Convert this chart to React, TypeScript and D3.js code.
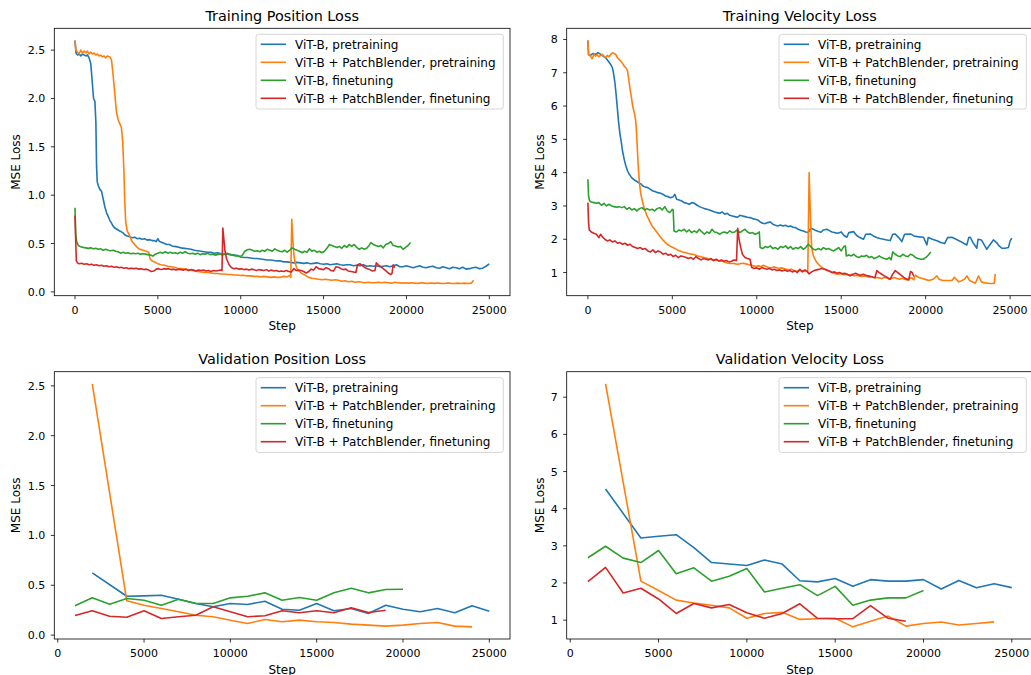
import React from "react";
import * as d3 from "d3";

// ---------- labels / colors ----------
const SERIES_LABELS = [
  "ViT-B, pretraining",
  "ViT-B + PatchBlender, pretraining",
  "ViT-B, finetuning",
  "ViT-B + PatchBlender, finetuning",
];
const COLORS = ["#1f77b4", "#ff7f0e", "#2ca02c", "#d62728"];
const TITLES = [
  "Training Position Loss",
  "Training Velocity Loss",
  "Validation Position Loss",
  "Validation Velocity Loss",
];
const X_TICKS = [0, 5000, 10000, 15000, 20000, 25000];
const Y_TICKS_POS = [0, 0.5, 1.0, 1.5, 2.0, 2.5];
const Y_TICKS_TVEL = [1, 2, 3, 4, 5, 6, 7, 8];
const Y_TICKS_VVEL = [1, 2, 3, 4, 5, 6, 7];

type P = [number, number];

// ---------- Training position loss ----------
const TP_VIT_PRE: P[] = [
  [0, 2.6], [60, 2.47], [150, 2.45], [250, 2.46], [350, 2.44], [450, 2.46], [550, 2.45], [650, 2.44], [750, 2.45], [850, 2.42],
  [950, 2.36], [1050, 2.15], [1120, 2.0], [1200, 1.97], [1260, 1.75], [1300, 1.3], [1340, 1.14], [1400, 1.1], [1500, 1.06], [1600, 1.04],
  [1700, 0.96], [1800, 0.88], [1900, 0.82], [2000, 0.78], [2100, 0.74], [2200, 0.71], [2300, 0.68], [2400, 0.66], [2500, 0.65], [2600, 0.64],
  [2700, 0.63], [2800, 0.62], [2900, 0.61], [3000, 0.59], [3100, 0.58], [3200, 0.575], [3300, 0.57], [3450, 0.56], [3600, 0.565], [3750, 0.55],
  [3900, 0.555], [4050, 0.545], [4200, 0.55], [4350, 0.535], [4500, 0.54], [4650, 0.53], [4800, 0.53], [4900, 0.52], [5000, 0.55], [5100, 0.52],
  [5250, 0.51], [5400, 0.5], [5550, 0.49], [5700, 0.49], [5850, 0.475], [6000, 0.47], [6200, 0.465], [6400, 0.455], [6600, 0.45], [6800, 0.445],
  [7000, 0.44], [7200, 0.43], [7400, 0.425], [7600, 0.42], [7800, 0.415], [8000, 0.41], [8200, 0.41], [8400, 0.4], [8600, 0.405], [8800, 0.395],
  [9000, 0.39], [9200, 0.39], [9400, 0.385], [9600, 0.38], [9800, 0.375], [10000, 0.36], [10200, 0.355], [10400, 0.355], [10600, 0.35], [10800, 0.345],
  [11000, 0.345], [11200, 0.34], [11400, 0.335], [11600, 0.33], [11800, 0.33], [12000, 0.325], [12200, 0.32], [12400, 0.32], [12600, 0.31], [12800, 0.31],
  [13000, 0.305], [13200, 0.3], [13400, 0.305], [13600, 0.3], [13800, 0.295], [14000, 0.3], [14200, 0.29], [14400, 0.295], [14600, 0.3], [14800, 0.29],
  [15000, 0.285], [15200, 0.29], [15400, 0.28], [15600, 0.285], [15800, 0.29], [16000, 0.28], [16200, 0.275], [16400, 0.28], [16600, 0.28], [16800, 0.27],
  [17000, 0.275], [17200, 0.27], [17400, 0.28], [17600, 0.265], [17800, 0.27], [18000, 0.265], [18200, 0.27], [18400, 0.26], [18600, 0.265], [18800, 0.27],
  [19000, 0.26], [19200, 0.27], [19400, 0.28], [19600, 0.26], [19800, 0.26], [20000, 0.27], [20200, 0.26], [20400, 0.25], [20600, 0.26], [20800, 0.27],
  [21000, 0.255], [21200, 0.25], [21400, 0.26], [21600, 0.265], [21800, 0.25], [22000, 0.245], [22200, 0.26], [22400, 0.25], [22600, 0.24], [22800, 0.255],
  [23000, 0.25], [23200, 0.24], [23400, 0.255], [23600, 0.235], [23800, 0.24], [24000, 0.25], [24200, 0.255], [24400, 0.24], [24600, 0.245], [24800, 0.265],
  [25000, 0.29],
];
const TP_PB_PRE: P[] = [
  [0, 2.6], [50, 2.5], [150, 2.48], [250, 2.46], [350, 2.5], [450, 2.47], [550, 2.49], [650, 2.47], [750, 2.49], [850, 2.46],
  [950, 2.48], [1050, 2.46], [1150, 2.47], [1250, 2.45], [1350, 2.46], [1450, 2.44], [1550, 2.45], [1650, 2.43], [1750, 2.44], [1850, 2.42],
  [1950, 2.44], [2100, 2.43], [2200, 2.4], [2300, 2.24], [2400, 2.05], [2500, 1.86], [2600, 1.78], [2700, 1.74], [2800, 1.7], [2880, 1.55],
  [2950, 1.25], [3000, 0.95], [3060, 0.72], [3150, 0.63], [3300, 0.58], [3450, 0.52], [3600, 0.49], [3750, 0.46], [3900, 0.44], [4100, 0.43],
  [4300, 0.42], [4450, 0.41], [4530, 0.34], [4650, 0.32], [4800, 0.31], [5000, 0.29], [5200, 0.28], [5400, 0.275], [5600, 0.265], [5800, 0.26],
  [6000, 0.255], [6200, 0.245], [6400, 0.24], [6600, 0.235], [6800, 0.23], [7000, 0.225], [7200, 0.215], [7400, 0.21], [7600, 0.205], [7800, 0.2],
  [8000, 0.2], [8200, 0.195], [8400, 0.19], [8600, 0.19], [8800, 0.185], [9000, 0.185], [9200, 0.18], [9400, 0.18], [9600, 0.175], [9800, 0.175],
  [10000, 0.17], [10200, 0.17], [10400, 0.165], [10600, 0.165], [10800, 0.16], [11000, 0.16], [11200, 0.155], [11400, 0.16], [11600, 0.155], [11800, 0.15],
  [12000, 0.155], [12200, 0.15], [12400, 0.15], [12600, 0.16], [12800, 0.155], [12950, 0.17], [13020, 0.15], [13080, 0.75], [13140, 0.55], [13200, 0.4],
  [13280, 0.3], [13400, 0.24], [13550, 0.21], [13700, 0.19], [13900, 0.17], [14100, 0.15], [14300, 0.14], [14500, 0.135], [14700, 0.13], [14900, 0.125],
  [15100, 0.13], [15300, 0.125], [15500, 0.12], [15700, 0.125], [15900, 0.12], [16100, 0.11], [16300, 0.115], [16500, 0.105], [16700, 0.11], [16900, 0.1],
  [17100, 0.105], [17300, 0.1], [17500, 0.095], [17700, 0.1], [17900, 0.095], [18100, 0.095], [18300, 0.1], [18500, 0.095], [18700, 0.1], [18900, 0.095],
  [19100, 0.09], [19300, 0.1], [19500, 0.095], [19700, 0.09], [19900, 0.095], [20100, 0.09], [20300, 0.095], [20500, 0.09], [20700, 0.088], [20900, 0.095],
  [21100, 0.09], [21300, 0.088], [21500, 0.092], [21700, 0.088], [21900, 0.092], [22100, 0.088], [22300, 0.086], [22500, 0.092], [22700, 0.088], [22900, 0.086],
  [23100, 0.09], [23300, 0.086], [23500, 0.09], [23700, 0.087], [23900, 0.09], [24000, 0.105], [24050, 0.12],
];
const TP_VIT_FT: P[] = [
  [0, 0.87], [40, 0.6], [100, 0.52], [200, 0.48], [300, 0.47], [400, 0.465], [500, 0.46], [650, 0.455], [800, 0.45], [950, 0.455],
  [1100, 0.445], [1250, 0.45], [1400, 0.44], [1550, 0.445], [1700, 0.43], [1850, 0.44], [2000, 0.43], [2150, 0.425], [2300, 0.43], [2450, 0.42],
  [2600, 0.415], [2750, 0.4], [2900, 0.41], [3050, 0.4], [3200, 0.405], [3350, 0.395], [3500, 0.4], [3650, 0.395], [3800, 0.4], [3950, 0.39],
  [4100, 0.395], [4250, 0.39], [4400, 0.385], [4550, 0.38], [4700, 0.37], [4850, 0.39], [5000, 0.4], [5150, 0.41], [5300, 0.4], [5450, 0.415],
  [5600, 0.4], [5750, 0.41], [5900, 0.4], [6050, 0.405], [6200, 0.395], [6350, 0.41], [6500, 0.4], [6650, 0.415], [6800, 0.4], [6950, 0.395],
  [7100, 0.4], [7250, 0.39], [7400, 0.4], [7550, 0.385], [7700, 0.395], [7850, 0.39], [8000, 0.4], [8150, 0.385], [8300, 0.39], [8450, 0.38],
  [8600, 0.385], [8750, 0.395], [8900, 0.38], [9050, 0.39], [9200, 0.4], [9350, 0.385], [9500, 0.38], [9650, 0.375], [9800, 0.37], [9950, 0.365],
  [10100, 0.38], [10250, 0.42], [10400, 0.435], [10550, 0.44], [10700, 0.43], [10850, 0.42], [11000, 0.425], [11150, 0.415], [11300, 0.43], [11450, 0.42],
  [11600, 0.44], [11750, 0.43], [11900, 0.42], [12050, 0.445], [12200, 0.43], [12350, 0.42], [12500, 0.415], [12650, 0.43], [12800, 0.41], [12950, 0.43],
  [13100, 0.455], [13250, 0.44], [13400, 0.43], [13550, 0.42], [13700, 0.405], [13850, 0.42], [14000, 0.41], [14150, 0.445], [14300, 0.42], [14450, 0.43],
  [14600, 0.41], [14750, 0.42], [14900, 0.405], [15050, 0.42], [15200, 0.45], [15350, 0.49], [15500, 0.48], [15650, 0.47], [15800, 0.46], [15950, 0.47],
  [16100, 0.45], [16250, 0.48], [16400, 0.46], [16550, 0.49], [16700, 0.47], [16850, 0.49], [17000, 0.46], [17150, 0.44], [17300, 0.455], [17450, 0.44],
  [17600, 0.45], [17750, 0.48], [17850, 0.51], [18000, 0.49], [18150, 0.48], [18300, 0.47], [18450, 0.48], [18600, 0.455], [18750, 0.49], [18900, 0.5],
  [19050, 0.52], [19200, 0.48], [19350, 0.475], [19500, 0.465], [19650, 0.47], [19800, 0.44], [19950, 0.46], [20100, 0.48], [20250, 0.51],
];
const TP_PB_FT: P[] = [
  [0, 0.79], [30, 0.6], [80, 0.32], [150, 0.3], [250, 0.29], [400, 0.295], [550, 0.285], [700, 0.29], [850, 0.28], [1000, 0.285],
  [1150, 0.275], [1300, 0.28], [1450, 0.27], [1600, 0.275], [1750, 0.265], [1900, 0.27], [2050, 0.26], [2200, 0.265], [2350, 0.255], [2500, 0.26],
  [2650, 0.25], [2800, 0.255], [2950, 0.245], [3100, 0.25], [3250, 0.24], [3400, 0.245], [3550, 0.24], [3700, 0.245], [3850, 0.235], [4000, 0.24],
  [4150, 0.23], [4300, 0.235], [4450, 0.225], [4600, 0.21], [4750, 0.215], [4900, 0.235], [5050, 0.24], [5200, 0.23], [5350, 0.24], [5500, 0.235],
  [5650, 0.24], [5800, 0.23], [5950, 0.235], [6100, 0.225], [6250, 0.235], [6400, 0.23], [6550, 0.225], [6700, 0.235], [6850, 0.22], [7000, 0.23],
  [7150, 0.225], [7300, 0.215], [7450, 0.225], [7600, 0.22], [7750, 0.225], [7900, 0.215], [8050, 0.22], [8200, 0.21], [8350, 0.22], [8500, 0.215],
  [8650, 0.22], [8800, 0.225], [8870, 0.22], [8920, 0.66], [8980, 0.55], [9050, 0.42], [9150, 0.34], [9300, 0.28], [9450, 0.25], [9600, 0.24],
  [9750, 0.245], [9900, 0.235], [10050, 0.24], [10200, 0.23], [10350, 0.235], [10500, 0.225], [10650, 0.235], [10800, 0.23], [10950, 0.22], [11100, 0.23],
  [11250, 0.225], [11400, 0.22], [11550, 0.23], [11700, 0.215], [11850, 0.225], [12000, 0.215], [12150, 0.22], [12300, 0.21], [12450, 0.215], [12600, 0.21],
  [12750, 0.22], [12900, 0.21], [13050, 0.205], [13200, 0.24], [13350, 0.22], [13500, 0.225], [13650, 0.22], [13800, 0.21], [13950, 0.195], [14100, 0.21],
  [14250, 0.235], [14400, 0.225], [14550, 0.26], [14700, 0.24], [14850, 0.235], [15000, 0.23], [15150, 0.25], [15300, 0.24], [15450, 0.22], [15600, 0.215],
  [15750, 0.26], [15900, 0.255], [16050, 0.24], [16200, 0.23], [16350, 0.235], [16500, 0.215], [16650, 0.21], [16800, 0.205], [16950, 0.2], [17050, 0.28],
  [17200, 0.29], [17350, 0.27], [17500, 0.25], [17650, 0.24], [17800, 0.23], [17950, 0.215], [18100, 0.22], [18180, 0.3], [18300, 0.28], [18450, 0.26],
  [18600, 0.24], [18750, 0.22], [18900, 0.195], [19050, 0.18], [19130, 0.19], [19200, 0.28], [19300, 0.25],
];

// ---------- Training velocity loss ----------
const TV_VIT_PRE: P[] = [
  [0, 7.97], [40, 7.55], [150, 7.52], [300, 7.58], [450, 7.55], [600, 7.6], [750, 7.56], [900, 7.5], [1050, 7.45], [1200, 7.35],
  [1350, 7.25], [1450, 7.15], [1520, 6.98], [1600, 6.7], [1680, 6.3], [1750, 5.9], [1820, 5.5], [1900, 5.15], [1970, 4.95], [2050, 4.65],
  [2150, 4.4], [2250, 4.2], [2350, 4.05], [2450, 3.95], [2550, 3.88], [2650, 3.82], [2750, 3.78], [2850, 3.75], [2950, 3.72], [3050, 3.68],
  [3150, 3.66], [3250, 3.6], [3400, 3.57], [3550, 3.55], [3700, 3.5], [3850, 3.45], [4000, 3.43], [4150, 3.4], [4300, 3.38], [4450, 3.35],
  [4600, 3.3], [4750, 3.28], [4900, 3.25], [5050, 3.28], [5150, 3.35], [5250, 3.2], [5400, 3.18], [5550, 3.15], [5700, 3.1], [5850, 3.08],
  [6000, 3.05], [6150, 3.1], [6300, 3.08], [6450, 3.03], [6600, 2.98], [6750, 2.95], [6900, 2.92], [7050, 2.9], [7200, 2.88], [7350, 2.85],
  [7500, 2.82], [7650, 2.8], [7800, 2.78], [7950, 2.82], [8100, 2.75], [8250, 2.78], [8400, 2.72], [8550, 2.7], [8700, 2.68], [8850, 2.66],
  [9000, 2.72], [9150, 2.7], [9300, 2.68], [9450, 2.66], [9600, 2.65], [9750, 2.62], [9900, 2.6], [10050, 2.58], [10200, 2.52], [10350, 2.48],
  [10500, 2.47], [10650, 2.5], [10800, 2.52], [10950, 2.45], [11100, 2.42], [11250, 2.4], [11400, 2.43], [11550, 2.4], [11700, 2.42], [11850, 2.38],
  [12000, 2.4], [12150, 2.36], [12300, 2.35], [12450, 2.3], [12600, 2.27], [12750, 2.25], [12900, 2.22], [13050, 2.2], [13200, 2.33], [13350, 2.3],
  [13500, 2.26], [13650, 2.23], [13800, 2.21], [13950, 2.28], [14150, 2.3], [14300, 2.26], [14450, 2.22], [14600, 2.2], [14800, 2.18], [15000, 2.22],
  [15150, 2.12], [15330, 2.06], [15450, 2.2], [15730, 2.23], [15900, 2.12], [16100, 2.05], [16320, 2.0], [16450, 2.15], [16720, 2.16], [16900, 2.1],
  [17100, 2.05], [17300, 2.02], [17500, 2.0], [17700, 1.98], [17900, 1.96], [18050, 2.15], [18200, 2.16], [18400, 2.05], [18590, 1.93], [18750, 2.15],
  [19100, 2.16], [19300, 2.1], [19500, 2.08], [19870, 2.06], [20070, 1.83], [20150, 2.05], [20400, 2.0], [20700, 1.95], [20900, 1.9], [21120, 1.87],
  [21300, 2.05], [21550, 2.06], [21800, 2.0], [22000, 1.95], [22250, 1.88], [22440, 1.83], [22550, 2.05], [22640, 2.06], [22800, 1.9], [23030, 1.73],
  [23100, 2.0], [23300, 1.98], [23500, 1.8], [23620, 1.7], [23750, 1.8], [24010, 1.98], [24200, 1.9], [24350, 1.8], [24510, 1.73], [24700, 1.73],
  [24900, 1.75], [25000, 1.95], [25100, 2.03],
];
const TV_PB_PRE: P[] = [
  [0, 7.97], [40, 7.55], [150, 7.5], [250, 7.42], [350, 7.55], [450, 7.5], [550, 7.55], [650, 7.48], [750, 7.52], [850, 7.55],
  [950, 7.5], [1050, 7.45], [1150, 7.52], [1250, 7.48], [1350, 7.55], [1450, 7.6], [1550, 7.58], [1650, 7.55], [1750, 7.45], [1850, 7.4],
  [1950, 7.35], [2050, 7.28], [2150, 7.2], [2250, 7.15], [2350, 7.05], [2420, 6.8], [2500, 6.5], [2580, 6.25], [2650, 6.0], [2750, 5.8],
  [2820, 5.6], [2870, 5.3], [2920, 4.8], [2980, 4.2], [3050, 3.7], [3120, 3.4], [3200, 3.2], [3300, 3.0], [3400, 2.85], [3500, 2.7],
  [3650, 2.55], [3800, 2.4], [3950, 2.3], [4100, 2.2], [4250, 2.1], [4400, 2.0], [4550, 1.92], [4700, 1.85], [4850, 1.8], [5000, 1.76],
  [5150, 1.72], [5300, 1.68], [5450, 1.65], [5600, 1.62], [5750, 1.6], [5900, 1.58], [6050, 1.56], [6200, 1.55], [6350, 1.53], [6500, 1.5],
  [6650, 1.48], [6800, 1.46], [6950, 1.44], [7100, 1.42], [7250, 1.4], [7400, 1.38], [7550, 1.37], [7700, 1.36], [7850, 1.34], [8000, 1.33],
  [8150, 1.3], [8300, 1.28], [8450, 1.27], [8600, 1.28], [8750, 1.26], [8900, 1.25], [9050, 1.27], [9200, 1.28], [9350, 1.26], [9500, 1.24],
  [9650, 1.22], [9800, 1.2], [9950, 1.18], [10100, 1.2], [10250, 1.18], [10400, 1.22], [10550, 1.18], [10700, 1.15], [10850, 1.14], [11000, 1.17],
  [11150, 1.15], [11300, 1.12], [11450, 1.14], [11600, 1.12], [11750, 1.1], [11900, 1.08], [12050, 1.1], [12200, 1.06], [12350, 1.04], [12500, 1.06],
  [12650, 1.05], [12800, 1.04], [12950, 1.03], [13020, 1.06], [13100, 4.0], [13180, 2.6], [13250, 1.75], [13350, 1.5], [13500, 1.35], [13650, 1.25],
  [13800, 1.18], [13950, 1.12], [14100, 1.08], [14250, 1.05], [14400, 1.02], [14550, 0.98], [14700, 0.96], [14850, 0.95], [15000, 0.98], [15150, 0.93],
  [15300, 0.95], [15450, 0.92], [15600, 0.95], [15750, 0.9], [15900, 0.92], [16050, 0.9], [16200, 0.88], [16350, 0.9], [16500, 0.88], [16650, 0.86],
  [16800, 0.88], [16950, 0.84], [17100, 0.85], [17250, 0.84], [17400, 0.82], [17550, 0.86], [17700, 0.84], [17850, 0.8], [18000, 0.83], [18150, 0.85],
  [18300, 0.82], [18450, 0.8], [18600, 0.83], [18750, 0.8], [18900, 0.78], [19050, 0.83], [19200, 0.84], [19280, 0.78], [19400, 0.92], [19600, 0.85],
  [19800, 0.82], [20070, 0.78], [20200, 0.76], [20450, 0.8], [20660, 0.9], [20800, 0.8], [21000, 0.76], [21300, 0.76], [21550, 0.76], [21700, 0.86],
  [21950, 0.72], [22100, 0.75], [22300, 0.8], [22440, 0.9], [22600, 0.76], [22940, 0.68], [23130, 0.9], [23300, 0.72], [23500, 0.69], [23820, 0.67],
  [24000, 0.67], [24060, 0.68], [24120, 0.96],
];
const TV_VIT_FT: P[] = [
  [0, 3.8], [40, 3.3], [100, 3.15], [200, 3.12], [350, 3.1], [500, 3.08], [650, 3.1], [800, 3.02], [950, 3.08], [1100, 3.0],
  [1250, 3.05], [1400, 3.0], [1550, 2.98], [1700, 2.96], [1850, 2.98], [2000, 2.95], [2150, 2.98], [2300, 2.9], [2450, 2.95], [2600, 2.88],
  [2750, 2.92], [2900, 2.85], [3050, 2.92], [3200, 2.95], [3350, 2.88], [3500, 2.92], [3650, 2.88], [3800, 2.9], [3950, 2.85], [4100, 2.92],
  [4250, 2.95], [4400, 2.88], [4550, 2.98], [4700, 2.85], [4850, 2.8], [5000, 2.9], [5050, 2.88], [5100, 2.25], [5250, 2.22], [5400, 2.28],
  [5550, 2.25], [5700, 2.3], [5850, 2.22], [6000, 2.28], [6150, 2.2], [6300, 2.25], [6450, 2.2], [6600, 2.3], [6750, 2.22], [6900, 2.15],
  [7050, 2.22], [7200, 2.18], [7350, 2.3], [7500, 2.22], [7650, 2.2], [7800, 2.15], [7950, 2.2], [8100, 2.22], [8250, 2.18], [8400, 2.25],
  [8550, 2.2], [8700, 2.22], [8850, 2.28], [9000, 2.2], [9150, 2.25], [9300, 2.3], [9450, 2.22], [9600, 2.18], [9750, 2.2], [9900, 2.15],
  [10050, 2.18], [10150, 2.22], [10200, 1.75], [10350, 1.72], [10500, 1.78], [10650, 1.75], [10800, 1.8], [10950, 1.72], [11100, 1.75], [11250, 1.7],
  [11400, 1.78], [11550, 1.75], [11700, 1.8], [11850, 1.72], [12000, 1.78], [12150, 1.7], [12300, 1.75], [12450, 1.72], [12600, 1.78], [12750, 1.7],
  [12900, 1.75], [13050, 1.85], [13200, 1.78], [13350, 1.7], [13500, 1.68], [13650, 1.72], [13800, 1.68], [13950, 1.75], [14100, 1.7], [14250, 1.72],
  [14400, 1.68], [14550, 1.65], [14700, 1.7], [14850, 1.75], [15000, 1.65], [15150, 1.78], [15250, 1.8], [15300, 1.5], [15450, 1.53], [15600, 1.5],
  [15750, 1.55], [15900, 1.48], [16050, 1.45], [16200, 1.5], [16350, 1.48], [16500, 1.52], [16650, 1.45], [16800, 1.48], [16950, 1.42], [17100, 1.45],
  [17250, 1.5], [17400, 1.45], [17550, 1.42], [17700, 1.4], [17850, 1.45], [17950, 1.38], [18050, 1.62], [18200, 1.55], [18350, 1.5], [18500, 1.48],
  [18650, 1.55], [18800, 1.5], [18950, 1.48], [19100, 1.55], [19250, 1.52], [19400, 1.45], [19550, 1.42], [19700, 1.4], [19850, 1.4], [20000, 1.45],
  [20150, 1.52], [20300, 1.62],
];
const TV_PB_FT: P[] = [
  [0, 3.1], [40, 2.5], [80, 2.28], [200, 2.22], [350, 2.18], [500, 2.15], [650, 2.05], [750, 2.15], [850, 2.08], [1000, 2.0],
  [1150, 1.95], [1300, 1.98], [1450, 1.92], [1600, 1.95], [1750, 1.88], [1900, 1.9], [2050, 1.85], [2200, 1.88], [2350, 1.82], [2500, 1.85],
  [2650, 1.78], [2800, 1.75], [2950, 1.72], [3100, 1.75], [3250, 1.7], [3400, 1.72], [3550, 1.65], [3700, 1.62], [3850, 1.68], [4000, 1.6],
  [4150, 1.65], [4300, 1.62], [4450, 1.55], [4600, 1.58], [4750, 1.52], [4900, 1.55], [5050, 1.48], [5200, 1.52], [5350, 1.45], [5500, 1.5],
  [5650, 1.48], [5800, 1.45], [5950, 1.42], [6100, 1.45], [6250, 1.4], [6400, 1.48], [6550, 1.42], [6700, 1.38], [6850, 1.42], [7000, 1.4],
  [7150, 1.38], [7300, 1.42], [7450, 1.36], [7600, 1.4], [7750, 1.35], [7900, 1.38], [8050, 1.34], [8200, 1.36], [8350, 1.32], [8500, 1.34],
  [8650, 1.38], [8800, 1.36], [8870, 2.33], [8950, 2.0], [9050, 1.75], [9150, 1.55], [9300, 1.45], [9450, 1.42], [9600, 1.4], [9700, 1.15],
  [9850, 1.12], [10000, 1.14], [10150, 1.1], [10300, 1.15], [10450, 1.12], [10600, 1.1], [10750, 1.12], [10900, 1.08], [11050, 1.1], [11200, 1.06],
  [11350, 1.08], [11500, 1.05], [11650, 1.08], [11800, 1.04], [11950, 1.06], [12100, 1.02], [12250, 1.05], [12400, 1.0], [12550, 1.1], [12700, 1.02],
  [12850, 1.08], [12950, 1.05], [13100, 0.96], [13250, 1.02], [13400, 1.06], [13550, 1.08], [13700, 1.1], [13850, 1.12], [14000, 1.1], [14150, 1.08],
  [14300, 1.05], [14450, 1.0], [14600, 1.02], [14750, 0.98], [14900, 1.0], [15050, 0.96], [15200, 0.98], [15350, 0.95], [15530, 0.9], [15700, 0.95],
  [15850, 0.98], [16000, 0.94], [16150, 0.92], [16300, 0.95], [16450, 0.92], [16600, 0.9], [16750, 0.88], [16900, 0.86], [17000, 0.85], [17110, 1.06],
  [17250, 1.0], [17400, 0.95], [17550, 0.9], [17700, 0.86], [17900, 0.8], [18050, 0.95], [18200, 1.06], [18350, 1.0], [18500, 0.94], [18650, 0.88],
  [18800, 0.82], [19000, 0.78], [19100, 1.03], [19200, 1.0], [19300, 0.88],
];

// ---------- Validation (every 1000 steps) ----------
const VAL_STEPS = [1000, 2000, 3000, 4000, 5000, 6000, 7000, 8000, 9000, 10000, 11000, 12000, 13000,
  14000, 15000, 16000, 17000, 18000, 19000, 20000, 21000, 22000, 23000, 24000, 25000];
const VP_VIT_PRE = [null, 0.624, null, 0.39, 0.394, 0.4, 0.36, 0.317, 0.284, 0.317, 0.307, 0.34, 0.26,
  0.25, 0.317, 0.244, 0.267, 0.217, 0.3, 0.26, 0.234, 0.267, 0.224, 0.294, 0.24];
const VP_PB_PRE = [null, 2.52, null, 0.344, 0.3, 0.267, 0.234, 0.2, 0.184, 0.15, 0.117, 0.157, 0.134,
  0.15, 0.134, 0.127, 0.11, 0.1, 0.09, 0.1, 0.117, 0.127, 0.09, 0.083, null];
const VP_VIT_FT = [0.294, 0.374, 0.31, 0.367, 0.35, 0.3, 0.36, 0.317, 0.317, 0.374, 0.39, 0.424, 0.35,
  0.377, 0.35, 0.424, 0.47, 0.424, 0.457, 0.46, null, null, null, null, null];
const VP_PB_FT = [0.197, 0.244, 0.19, 0.18, 0.244, 0.167, 0.184, 0.2, 0.284, 0.234, 0.184, 0.194, 0.244,
  0.224, 0.244, 0.224, 0.274, 0.227, 0.25, null, null, null, null, null, null];

const VV_VIT_PRE = [null, 4.53, null, 3.21, 3.26, 3.3, 2.95, 2.55, 2.51, 2.47, 2.62, 2.51, 2.06,
  2.03, 2.12, 1.91, 2.09, 2.05, 2.05, 2.09, 1.84, 2.07, 1.87, 1.98, 1.875];
const VV_PB_PRE = [null, 7.36, null, 2.05, 1.8, 1.54, 1.46, 1.4, 1.33, 1.05, 1.18, 1.21, 1.02,
  1.04, 1.05, 0.82, 0.97, 1.11, 0.84, 0.91, 0.95, 0.87, 0.91, 0.955, null];
const VV_VIT_FT = [2.68, 2.99, 2.67, 2.55, 2.875, 2.25, 2.41, 2.05, 2.18, 2.39, 1.76, 1.86, 1.955,
  1.66, 1.91, 1.4, 1.54, 1.6, 1.6, 1.8, null, null, null, null, null];
const VV_PB_FT = [2.04, 2.42, 1.73, 1.86, 1.57, 1.18, 1.45, 1.33, 1.42, 1.2, 1.05, 1.18, 1.44,
  1.05, 1.04, 1.04, 1.39, 1.05, 0.97, null, null, null, null, null, null];

function valSeries(vals: (number | null)[]): P[] {
  const out: P[] = [];
  vals.forEach((v, i) => {
    if (v !== null) out.push([VAL_STEPS[i], v]);
  });
  return out;
}

const FONT = "DejaVu Sans, Liberation Sans, sans-serif";

type PanelDef = {
  title: string;
  rect: { l: number; r: number; t: number; b: number };
  series: P[][];
  yTicks: number[];
  yFmt: (v: number) => string;
  yLabelX: number;
  showStep: boolean;
};

function Panel({ p }: { p: PanelDef }) {
  const all = p.series.flat();
  const [x0, x1] = d3.extent(all, (d) => d[0]) as [number, number];
  const [y0, y1] = d3.extent(all, (d) => d[1]) as [number, number];
  const xp = (x1 - x0) * 0.05;
  const yp = (y1 - y0) * 0.05;
  const x = d3.scaleLinear().domain([x0 - xp, x1 + xp]).range([p.rect.l, p.rect.r]);
  const y = d3.scaleLinear().domain([y0 - yp, y1 + yp]).range([p.rect.b, p.rect.t]);
  const line = d3
    .line<P>()
    .x((d) => x(d[0]))
    .y((d) => y(d[1]));
  const { l, r, t, b } = p.rect;
  const legRight = r - 6.7;
  const legW = 247.3;
  const legL = legRight - legW;
  const legT = t + 6;
  return (
    <g>
      <text x={(l + r) / 2} y={t - 7.5} textAnchor="middle" fontSize={14.4} fontFamily={FONT} fill="#000">
        {p.title}
      </text>
      {p.series.map((s, i) => (
        <path key={i} d={line(s) || ""} fill="none" stroke={COLORS[i]} strokeWidth={1.6} strokeLinejoin="round" />
      ))}
      <rect x={l} y={t} width={r - l} height={b - t} fill="none" stroke="#000" strokeWidth={0.8} />
      {X_TICKS.map((v) => (
        <g key={"x" + v}>
          <line x1={x(v)} x2={x(v)} y1={b} y2={b + 3.5} stroke="#000" strokeWidth={0.8} />
          <text x={x(v)} y={b + 18.3} textAnchor="middle" fontSize={11} fontFamily={FONT} fill="#000">
            {String(v)}
          </text>
        </g>
      ))}
      {p.yTicks.map((v) => (
        <g key={"y" + v}>
          <line x1={l - 3.5} x2={l} y1={y(v)} y2={y(v)} stroke="#000" strokeWidth={0.8} />
          <text x={l - 9} y={y(v) + 4} textAnchor="end" fontSize={11} fontFamily={FONT} fill="#000">
            {p.yFmt(v)}
          </text>
        </g>
      ))}
      <text
        transform={`translate(${p.yLabelX},${(t + b) / 2}) rotate(-90)`}
        textAnchor="middle"
        fontSize={12}
        fontFamily={FONT}
        fill="#000"
      >
        MSE Loss
      </text>
      {p.showStep && (
        <text x={(l + r) / 2} y={b + 34.5} textAnchor="middle" fontSize={12} fontFamily={FONT} fill="#000">
          Step
        </text>
      )}
      <rect x={legL} y={legT} width={legW} height={74.7} rx={2.5} fill="#fff" fillOpacity={0.8} stroke="#cccccc" strokeWidth={0.8} />
      {SERIES_LABELS.map((lab, i) => {
        const cy = legT + 10 + i * 18;
        return (
          <g key={lab}>
            <line x1={legL + 4.7} x2={legL + 30} y1={cy} y2={cy} stroke={COLORS[i]} strokeWidth={1.6} />
            <text x={legL + 39} y={cy + 4.6} fontSize={12} fontFamily={FONT} fill="#000">
              {lab}
            </text>
          </g>
        );
      })}
    </g>
  );
}

export default function App() {
  const fmt1 = (v: number) => v.toFixed(1);
  const fmt0 = (v: number) => String(v);
  const panels: PanelDef[] = [
    {
      title: TITLES[0],
      rect: { l: 54.3, r: 510, t: 28.3, b: 295.7 },
      series: [TP_VIT_PRE, TP_PB_PRE, TP_VIT_FT, TP_PB_FT],
      yTicks: Y_TICKS_POS,
      yFmt: fmt1,
      yLabelX: 20,
      showStep: true,
    },
    {
      title: TITLES[1],
      rect: { l: 566.7, r: 1033, t: 28.3, b: 295.7 },
      series: [TV_VIT_PRE, TV_PB_PRE, TV_VIT_FT, TV_PB_FT],
      yTicks: Y_TICKS_TVEL,
      yFmt: fmt0,
      yLabelX: 544,
      showStep: true,
    },
    {
      title: TITLES[2],
      rect: { l: 54.3, r: 510, t: 371.7, b: 639 },
      series: [valSeries(VP_VIT_PRE), valSeries(VP_PB_PRE), valSeries(VP_VIT_FT), valSeries(VP_PB_FT)],
      yTicks: Y_TICKS_POS,
      yFmt: fmt1,
      yLabelX: 20,
      showStep: true,
    },
    {
      title: TITLES[3],
      rect: { l: 566.7, r: 1033, t: 371.7, b: 639 },
      series: [valSeries(VV_VIT_PRE), valSeries(VV_PB_PRE), valSeries(VV_VIT_FT), valSeries(VV_PB_FT)],
      yTicks: Y_TICKS_VVEL,
      yFmt: fmt0,
      yLabelX: 544,
      showStep: true,
    },
  ];
  return (
    <svg
      width={1031}
      height={675}
      viewBox="0 0 1031 675"
      style={{ position: "absolute", left: 0, top: 0, background: "#fff", display: "block" }}
    >
      <rect x={0} y={0} width={1031} height={675} fill="#fff" />
      {panels.map((p, i) => (
        <Panel key={i} p={p} />
      ))}
    </svg>
  );
}
